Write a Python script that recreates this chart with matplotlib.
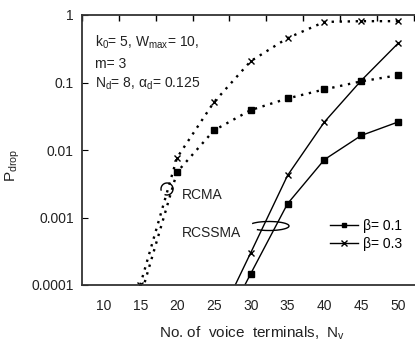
import matplotlib.pyplot as plt
from matplotlib.patches import Arc

plt.rcParams['font.family'] = ['Liberation Sans', 'DejaVu Sans']
plt.rcParams['mathtext.fontset'] = 'custom'
plt.rcParams['mathtext.rm'] = 'Liberation Sans'

# numero de terminales de voz / number of voice terminals
n_rcma = [15, 20, 25, 30, 35, 40, 45, 50]
rcma_b01 = [0.000065, 0.0047, 0.0195, 0.039, 0.058, 0.079, 0.104, 0.128]
rcma_b03 = [0.0001, 0.0077, 0.051, 0.207, 0.455, 0.79, 0.81, 0.81]

n_rcssma = [25, 30, 35, 40, 45, 50]
rcssma_b01 = [0.000013, 0.000147, 0.0016, 0.0072, 0.0164, 0.026]
rcssma_b03 = [0.000022, 0.0003, 0.0042, 0.026, 0.107, 0.38]

x_ticks = [10, 15, 20, 25, 30, 35, 40, 45, 50]
y_ticks = [0.0001, 0.001, 0.01, 0.1, 1]
y_labels = ['0.0001', '0.001', '0.01', '0.1', '1']

fig = plt.figure(figsize=(4.15, 3.45), dpi=100)
ax = fig.add_axes([82 / 415, 1 - 285 / 345, 1 - 82 / 415, 270 / 345])

# curvas RCMA punteadas / dotted RCMA curves
ax.plot(n_rcma, rcma_b01, color='black', ls=(0, (1, 2.4)), lw=1.7,
        marker='s', ms=4, mec='black', mfc='black')
ax.plot(n_rcma, rcma_b03, color='black', ls=(0, (1, 2.4)), lw=1.7,
        marker='x', ms=5, mew=1)

# curvas RCSSMA solidas / solid RCSSMA curves
ax.plot(n_rcssma, rcssma_b01, color='black', lw=1, marker='s', ms=4,
        label='\u03b2= 0.1')
ax.plot(n_rcssma, rcssma_b03, color='black', lw=1, marker='x', ms=5,
        mew=1, label='\u03b2= 0.3')

ax.set_yscale('log')
ax.set_xlim(7.1, 52.3)
ax.set_ylim(0.0001, 1)
ax.set_xticks(x_ticks)
ax.set_yticks(y_ticks)
ax.set_yticklabels(y_labels)
ax.minorticks_off()
ax.tick_params(axis='x', length=0, labelsize=10, pad=10)
ax.tick_params(axis='y', direction='in', length=4, labelsize=10, pad=6)
ax.tick_params(axis='both', labelcolor='#222222')

ax.spines['right'].set_visible(False)
for s in ['left', 'top', 'bottom']:
    ax.spines[s].set_linewidth(1.3)
    ax.spines[s].set_color('#333333')

top = ax.secondary_xaxis('top')
top.set_xticks([7.1 + 5 * k for k in range(10)])
top.tick_params(direction='in', length=4, labeltop=False, width=1)
top.spines['top'].set_visible(False)

ax.text(0.04, 0.9, 'k$_0$= 5, W$_{\\mathrm{max}}$= 10,', transform=ax.transAxes,
        fontsize=10, va='center', color='#222222')
ax.text(0.04, 0.82, 'm= 3', transform=ax.transAxes, fontsize=10,
        va='center', color='#222222')
ax.text(0.04, 0.745, 'N$_\\mathrm{d}$= 8, \u03b1$_\\mathrm{d}$= 0.125',
        transform=ax.transAxes, fontsize=10, va='center', color='#222222')

# etiquetas con elipses / labels with ellipses
ax.text((182 - 82) / 333, (285 - 195) / 270, 'RCMA', transform=ax.transAxes,
        fontsize=10, va='center', color='#222222')
ax.text((182 - 82) / 333, (285 - 233) / 270, 'RCSSMA', transform=ax.transAxes,
        fontsize=10, va='center', color='#222222')
ax.add_patch(Arc(((167 - 82) / 333, (285 - 189) / 270), 12 / 333, 12 / 270,
                 theta1=-110, theta2=200, transform=ax.transAxes,
                 color='black', lw=1))
ax.add_patch(Arc(((269 - 82) / 333, (285 - 226) / 270), 40 / 333, 9 / 270,
                 theta1=-160, theta2=170, transform=ax.transAxes,
                 color='black', lw=1))

ax.legend(loc='lower right', bbox_to_anchor=(1.0, 0.08), frameon=False,
          fontsize=10, handlelength=2, handletextpad=0.4, labelspacing=0.3,
          markerscale=0.8)

fig.text(13 / 415, 1 - 165 / 345, 'P$_{\\mathrm{drop}}$', rotation=90,
         fontsize=11, ha='center', va='center', color='#222222')
fig.text(252 / 415, 1 - 333 / 345, 'No. of  voice  terminals,  N$_\\mathrm{v}$',
         fontsize=11, ha='center', va='center', color='#222222')

fig.savefig('out.png', dpi=100)
